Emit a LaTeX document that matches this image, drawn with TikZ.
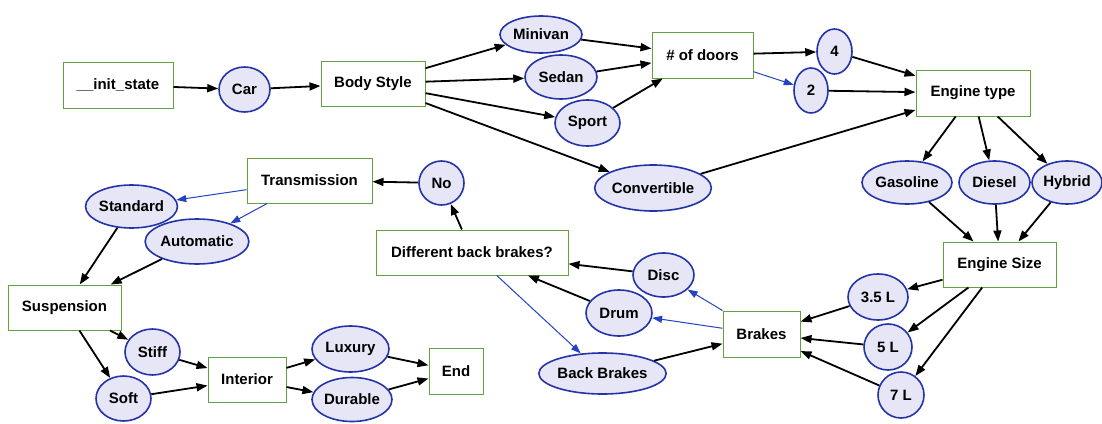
\documentclass[tikz,border=0pt]{standalone}
\usepackage{fontspec}
\setmainfont{Liberation Sans}
\usetikzlibrary{shapes.geometric,arrows.meta}
\definecolor{statefill}{HTML}{E6E6F6}
\definecolor{stateline}{HTML}{2433A8}
\definecolor{boxline}{HTML}{62A040}
\definecolor{optedge}{HTML}{2542C4}
\tikzset{
  x=1pt, y=-1pt,
  lbl/.style={font=\fontsize{15}{17}\selectfont\bfseries, text=black, inner sep=0pt},
  choice/.style={lbl, ellipse, draw=stateline, line width=1.6pt, fill=statefill},
  question/.style={lbl, rectangle, draw=boxline, line width=1pt, fill=white},
  flow/.style={draw=black, line width=1.8pt, -{Triangle[length=11pt,width=8pt]}},
  alt/.style={draw=optedge, line width=1pt, -{Triangle[length=10pt,width=7pt]}},
}
\newcommand{\optnode}[5]{\node[choice, minimum width=#3, minimum height=#4] (#1) at #2 {#5};}
\newcommand{\qbox}[5]{\node[question, minimum width=#3, minimum height=#4] (#1) at #2 {#5};}
\begin{document}
\begin{tikzpicture}
\useasboundingbox[fill=white] (0,0) rectangle (1102,423);

% question boxes
\qbox{init}{(118,85)}{110}{46}{\_\_init\_state}
\qbox{body}{(373,83.5)}{104}{45}{Body Style}
\qbox{doors}{(702.5,55)}{101}{46}{\# of doors}
\qbox{etype}{(973,93)}{114}{46}{Engine type}
\qbox{esize}{(999.5,264.5)}{113}{45}{Engine Size}
\qbox{brakes}{(761.5,334)}{77}{46}{Brakes}
\qbox{diff}{(472,252.5)}{192}{45}{Different back brakes?}
\qbox{trans}{(309.5,180.5)}{125}{45}{Transmission}
\qbox{susp}{(64.5,307.5)}{113}{45}{Suspension}
\qbox{interior}{(247,379.5)}{78}{45}{Interior}
\qbox{fin}{(456,371)}{54}{46}{End}

% answer ellipses
\optnode{car}{(244.5,89.5)}{51}{45}{Car}
\optnode{minivan}{(541,34.5)}{82}{37}{Minivan}
\optnode{sedan}{(561,77)}{72}{44}{Sedan}
\optnode{sport}{(587.5,123)}{65}{46}{Sport}
\optnode{conv}{(653,188)}{110}{46}{Convertible}
\optnode{four}{(834.5,51.5)}{35}{45}{4}
\optnode{two}{(811,90.5)}{34}{45}{2}
\optnode{gas}{(907,182.5)}{90}{43}{Gasoline}
\optnode{diesel}{(994.5,182.5)}{71}{43}{Diesel}
\optnode{hybrid}{(1067,182.5)}{70}{43}{Hybrid}
\optnode{l35}{(878,297)}{60}{46}{3.5 L}
\optnode{l5}{(888,347)}{48}{46}{5 L}
\optnode{l7}{(901,395)}{46}{46}{7 L}
\optnode{disc}{(663.5,275)}{61}{44}{Disc}
\optnode{drum}{(619,313)}{66}{46}{Drum}
\optnode{back}{(602.5,373.5)}{119}{41}{Back Brakes}
\optnode{no}{(441.5,183)}{45}{44}{No}
\optnode{standard}{(131.5,206.5)}{91}{43}{Standard}
\optnode{auto}{(197,241.5)}{100}{45}{Automatic}
\optnode{stiff}{(152.5,352)}{55}{46}{Stiff}
\optnode{soft}{(123.5,398.5)}{55}{45}{Soft}
\optnode{luxury}{(350.5,349)}{77}{46}{Luxury}
\optnode{durable}{(352,399.5)}{80}{44}{Durable}

% transitions
\draw[flow] (init) -- (car);
\draw[flow] (car) -- (body);
\draw[flow] (body) -- (minivan);
\draw[flow] (body) -- (sedan);
\draw[flow] (body) -- (sport);
\draw[flow] (body) -- (conv);
\draw[flow] (minivan) -- (doors);
\draw[flow] (sedan) -- (doors);
\draw[flow] (sport) -- (doors);
\draw[flow] (doors) -- (four);
\draw[alt]  (doors) -- (two);
\draw[flow] (four) -- (etype);
\draw[flow] (two) -- (etype);
\draw[flow] (conv) -- (etype);
\draw[flow] (etype) -- (gas);
\draw[flow] (etype) -- (diesel);
\draw[flow] (etype) -- (hybrid);
\draw[flow] (gas) -- (esize);
\draw[flow] (diesel) -- (esize);
\draw[flow] (hybrid) -- (esize);
\draw[flow] (esize) -- (l35);
\draw[flow] (esize) -- (l5);
\draw[flow] (esize) -- (l7);
\draw[flow] (l35) -- (brakes);
\draw[flow] (l5) -- (brakes);
\draw[flow] (l7) -- (brakes);
\draw[alt]  (brakes) -- (disc);
\draw[alt]  (brakes) -- (drum);
\draw[flow] (back) -- (brakes);
\draw[flow] (disc) -- (diff);
\draw[flow] (drum) -- (diff);
\draw[alt]  (diff) -- (back);
\draw[flow] (diff) -- (no);
\draw[flow] (no) -- (trans);
\draw[alt]  (trans) -- (standard);
\draw[alt]  (trans) -- (auto);
\draw[flow] (standard) -- (susp);
\draw[flow] (auto) -- (susp);
\draw[flow] (susp) -- (stiff);
\draw[flow] (susp) -- (soft);
\draw[flow] (stiff) -- (interior);
\draw[flow] (soft) -- (interior);
\draw[flow] (interior) -- (luxury);
\draw[flow] (interior) -- (durable);
\draw[flow] (luxury) -- (fin);
\draw[flow] (durable) -- (fin);
\end{tikzpicture}
\end{document}
